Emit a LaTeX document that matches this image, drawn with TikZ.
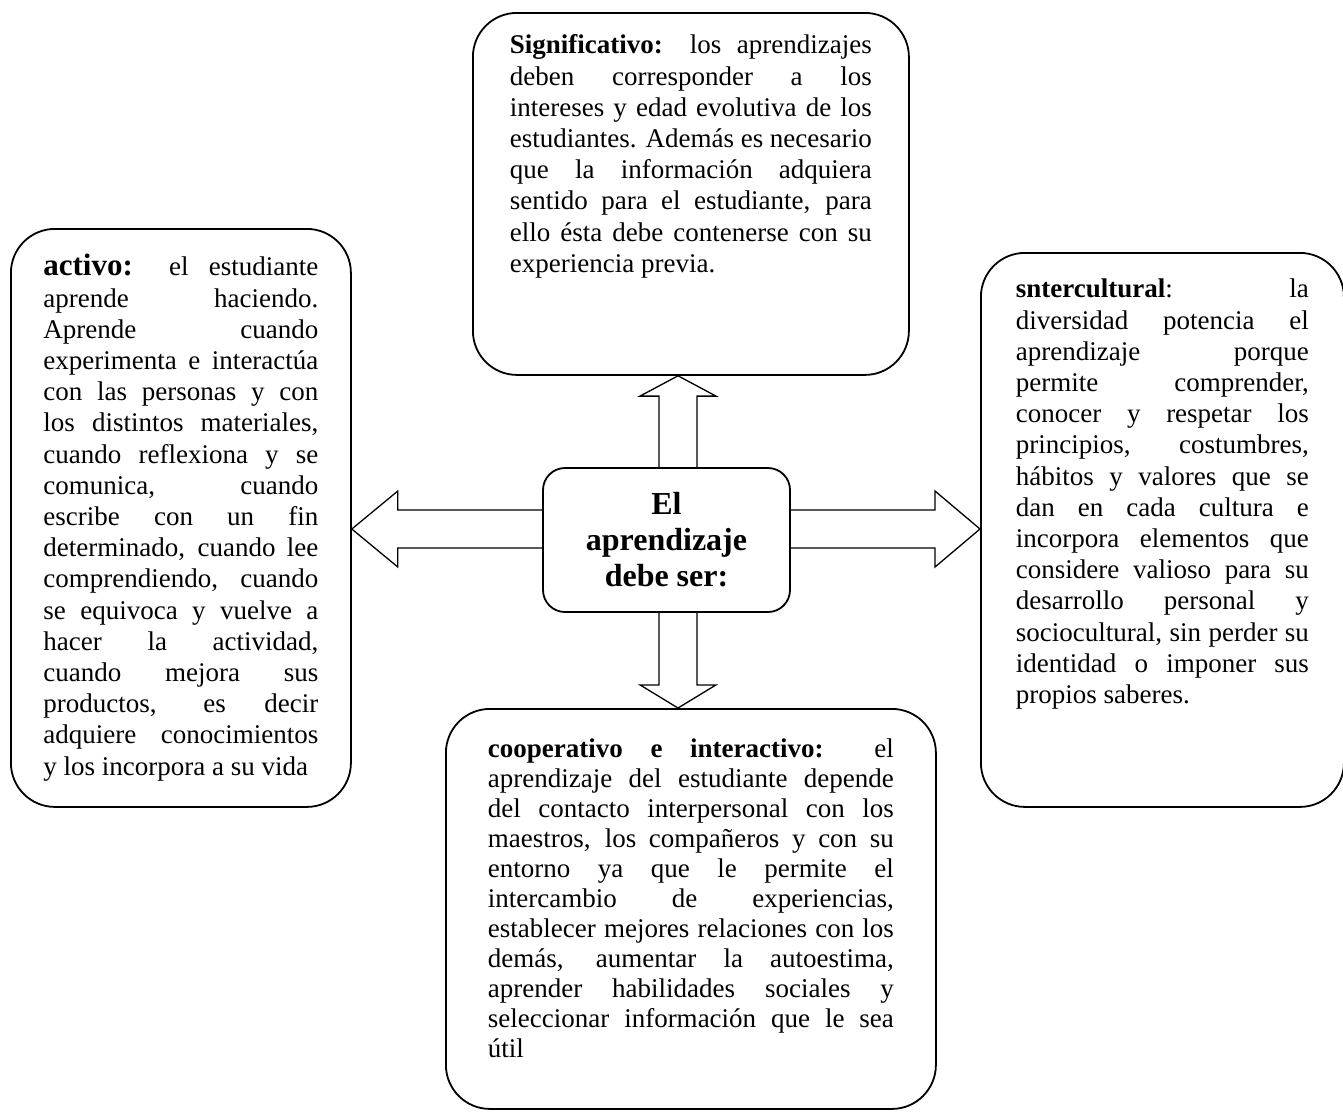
\documentclass[tikz,border=0pt]{standalone}
\usepackage{fontspec}
\setmainfont{Liberation Serif}
\usetikzlibrary{positioning,calc}
\hyphenpenalty=10000
\tolerance=9999

\tikzset{
    caja/.style={draw, line width=0.9pt, rounded corners=22pt, anchor=north west, align=justify, inner ysep=0pt,
        font=\fontsize{13.5}{15.6}\selectfont},
    flecha/.style={draw, line width=0.65pt, line join=miter},
    nucleo/.style={draw, line width=0.9pt, rounded corners=11pt, minimum width=123.5pt, minimum height=72pt,
        align=center, font=\bfseries\fontsize{16}{18}\selectfont}
}

\begin{document}
\begin{tikzpicture}[x=0.5pt, y=-0.5pt]
    \useasboundingbox (0,0) rectangle (1343,1116);

    % Centro
    \node[nucleo] (centro) at (666.5,540) {El\\aprendizaje\\debe ser:};

    % Cajas
    \node[caja, text width=181pt, inner xsep=18.5pt, text height=20.5pt, text depth=160.5pt] (sig) at (472,12)
        {\textbf{Significativo:} los aprendizajes\linebreak
        deben corresponder a los\linebreak
        intereses y edad evolutiva de los\linebreak
        estudiantes. Además es necesario\linebreak
        que la información adquiera\linebreak
        sentido para el estudiante, para\linebreak
        ello ésta debe contenerse con su\linebreak
        experiencia previa.};
    \node[caja, text width=137.5pt, inner xsep=16.25pt, text height=23.5pt, text depth=265.5pt] (act) at (10,228)
        {{\fontsize{15.5}{15.5}\selectfont\textbf{activo:}} el estudiante\linebreak
        aprende haciendo.\linebreak
        Aprende cuando\linebreak
        experimenta e interactúa\linebreak
        con las personas y con\linebreak
        los distintos materiales,\linebreak
        cuando reflexiona y se\linebreak
        comunica, cuando\linebreak
        escribe con un fin\linebreak
        determinado, cuando lee\linebreak
        comprendiendo, cuando\linebreak
        se equivoca y vuelve a\linebreak
        hacer la actividad,\linebreak
        cuando mejora sus\linebreak
        productos, es decir\linebreak
        adquiere conocimientos\linebreak
        y los incorpora a su vida};
    \node[caja, text width=146.5pt, inner xsep=17.5pt, text height=22.5pt, text depth=254.5pt] (inter) at (980,252)
        {\textbf{sntercultural}: la\linebreak
        diversidad potencia el\linebreak
        aprendizaje porque\linebreak
        permite comprender,\linebreak
        conocer y respetar los\linebreak
        principios, costumbres,\linebreak
        hábitos y valores que se\linebreak
        dan en cada cultura e\linebreak
        incorpora elementos que\linebreak
        considere valioso para su\linebreak
        desarrollo personal y\linebreak
        sociocultural, sin perder su\linebreak
        identidad o imponer sus\linebreak
        propios saberes.};
    \node[caja, text width=203pt, inner xsep=21pt, text height=24.5pt, text depth=175.5pt,
        font=\fontsize{13.5}{15}\selectfont] (coop) at (445,708)
        {\textbf{cooperativo e interactivo:} el\linebreak
        aprendizaje del estudiante depende\linebreak
        del contacto interpersonal con los\linebreak
        maestros, los compañeros y con su\linebreak
        entorno ya que le permite el\linebreak
        intercambio de experiencias,\linebreak
        establecer mejores relaciones con los\linebreak
        demás, aumentar la autoestima,\linebreak
        aprender habilidades sociales y\linebreak
        seleccionar información que le sea\linebreak
        útil};

    % Flechas
    \coordinate (ejeV) at (678,540);
    \coordinate (ejeH) at (666,529);
    \draw[flecha] ($(centro.north -| ejeV)+(-19,0)$) -- ++(0,-71) -- ++(-19,0) -- (sig.south -| ejeV)
        -- ($(centro.north -| ejeV)+(38,-71)$) -- ++(-19,0) -- ++(0,71);
    \draw[flecha] ($(centro.south -| ejeV)+(-19,0)$) -- ++(0,72) -- ++(-19,0) -- (coop.north -| ejeV)
        -- ($(centro.south -| ejeV)+(38,72)$) -- ++(-19,0) -- ++(0,-72);
    \draw[flecha] ($(centro.west |- ejeH)+(0,-19)$) -- ($(act.east |- ejeH)+(46,-19)$) -- ++(0,-19) -- (act.east |- ejeH)
        -- ($(act.east |- ejeH)+(46,38)$) -- ++(0,-19) -- ($(centro.west |- ejeH)+(0,19)$);
    \draw[flecha] ($(centro.east |- ejeH)+(0,-19)$) -- ($(inter.west |- ejeH)+(-45,-19)$) -- ++(0,-19) -- (inter.west |- ejeH)
        -- ($(inter.west |- ejeH)+(-45,38)$) -- ++(0,-19) -- ($(centro.east |- ejeH)+(0,19)$);
\end{tikzpicture}
\end{document}
